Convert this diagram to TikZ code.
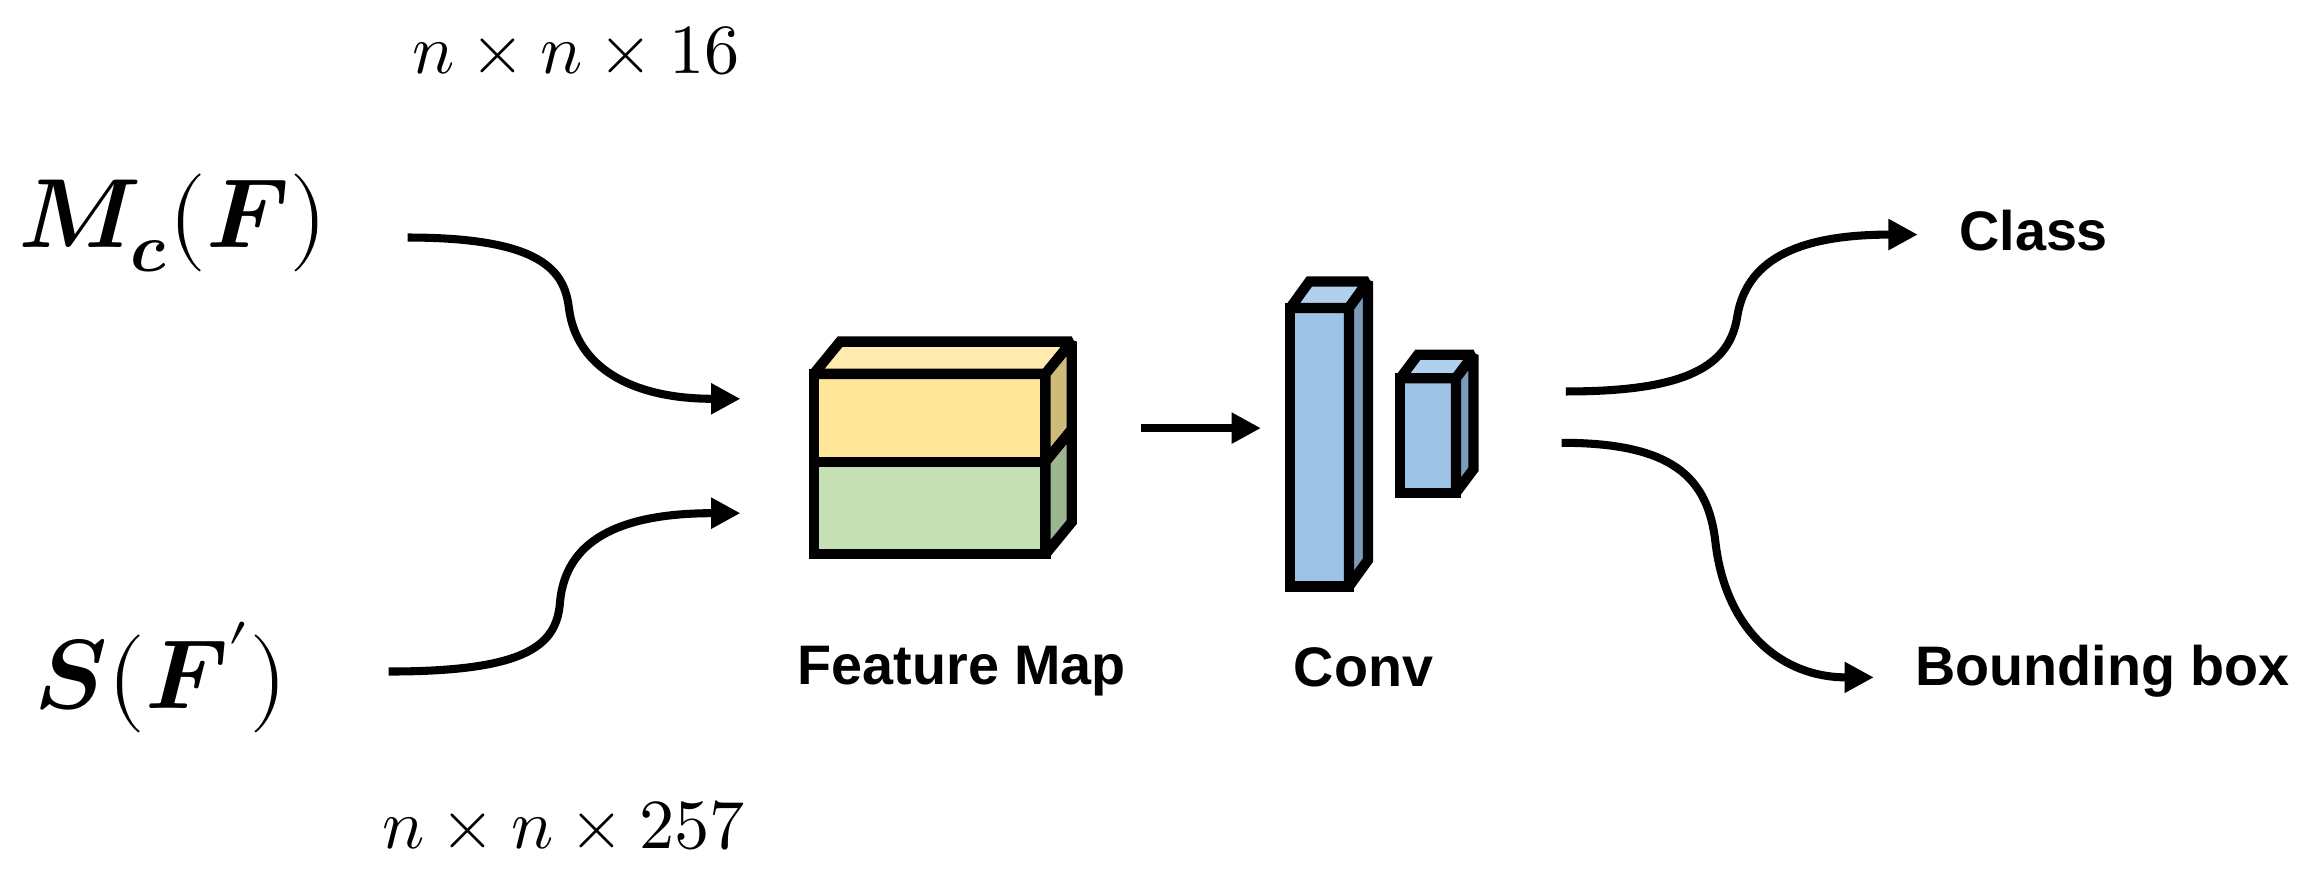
\documentclass[tikz,border=0pt]{standalone}
\usepackage{fontspec}
\usepackage{unicode-math}
\setmathfont{Latin Modern Math}
\setmainfont{Liberation Sans}
\usetikzlibrary{arrows.meta}
\definecolor{yel}{HTML}{FFE699}\definecolor{yels}{HTML}{CDBB7A}
\definecolor{grn}{HTML}{C5E0B4}\definecolor{grns}{HTML}{9EB592}
\definecolor{blu}{HTML}{9DC3E6}\definecolor{blus}{HTML}{7B9BBA}\definecolor{blut}{HTML}{B0D0EE}
\begin{document}
\begin{tikzpicture}[x=1pt,y=-1pt,
  arr/.style={line width=5.5pt,-{Triangle[length=20pt,width=20pt]}},
  box/.style={line width=7pt,line join=miter,miter limit=1.5},
  lab/.style={font=\fontsize{38}{44}\selectfont\bfseries},
  mth/.style={font=\fontsize{67}{76}\selectfont},
  dim/.style={font=\fontsize{48}{56}\selectfont}]
\useasboundingbox (0,0) rectangle (1568,593);
% labels
\node[dim] (d1) at (393,35) {$n\times n\times 16$};
\node[dim] (d2) at (385,563) {$n\times n\times 257$};
\node[mth] (mc) at (118,152) {$\symbfit{M}_{\symbfit{c}}\symbf{(}\symbfit{F}\symbf{)}$};
\node[mth] (sf) at (110,462) {$\symbfit{S}\symbf{(}\symbfit{F}'\symbf{)}$};
% feature map
\filldraw[box,fill=yel] (555,255) rectangle (713,315);
\filldraw[box,fill=grn] (555,315) rectangle (713,378);
\filldraw[box,fill=yel!80!white] (555,255) -- (573,233) -- (731,233) -- (713,255) -- cycle;
\filldraw[box,fill=yels] (713,255) -- (731,233) -- (731,293) -- (713,315) -- cycle;
\filldraw[box,fill=grns] (713,315) -- (731,293) -- (731,356) -- (713,378) -- cycle;
\node[lab] (fml) at (656,458) {Feature Map};
% conv tall
\filldraw[box,fill=blu] (880,210) rectangle (920,400);
\filldraw[box,fill=blut] (880,210) -- (893,192) -- (933,192) -- (920,210) -- cycle;
\filldraw[box,fill=blus] (920,210) -- (933,192) -- (933,382) -- (920,400) -- cycle;
% conv small
\filldraw[box,fill=blu] (955,258) rectangle (993,336);
\filldraw[box,fill=blut] (955,258) -- (967,242) -- (1005,242) -- (993,258) -- cycle;
\filldraw[box,fill=blus] (993,258) -- (1005,242) -- (1005,320) -- (993,336) -- cycle;
\node[lab] (cl) at (930,455) {Conv};
\node[lab] (cls) at (1387,157) {Class};
\node[lab] (bb) at (1434,458) {Bounding box};
% connectors
\coordinate (a1) at (278,162); \coordinate (a1e) at (505,272);
\coordinate (a2) at (265,458); \coordinate (a2e) at (505,350);
\coordinate (m1) at (778,292); \coordinate (m2) at (860,292);
\coordinate (o1) at (1068,267); \coordinate (o1e) at (1308,160);
\coordinate (o2) at (1065,302); \coordinate (o2e) at (1278,462);
\draw[arr] (a1) .. controls (370,162) and (385,185) .. (388,210) .. controls (393,250) and (430,272) .. (a1e);
\draw[arr] (a2) .. controls (360,458) and (380,440) .. (382,410) .. controls (386,370) and (420,350) .. (a2e);
\draw[arr] (m1) -- (m2);
\draw[arr] (o1) .. controls (1150,267) and (1180,250) .. (1185,215) .. controls (1192,175) and (1230,160) .. (o1e);
\draw[arr] (o2) .. controls (1140,302) and (1165,325) .. (1170,370) .. controls (1177,430) and (1215,462) .. (o2e);
\end{tikzpicture}
\end{document}
